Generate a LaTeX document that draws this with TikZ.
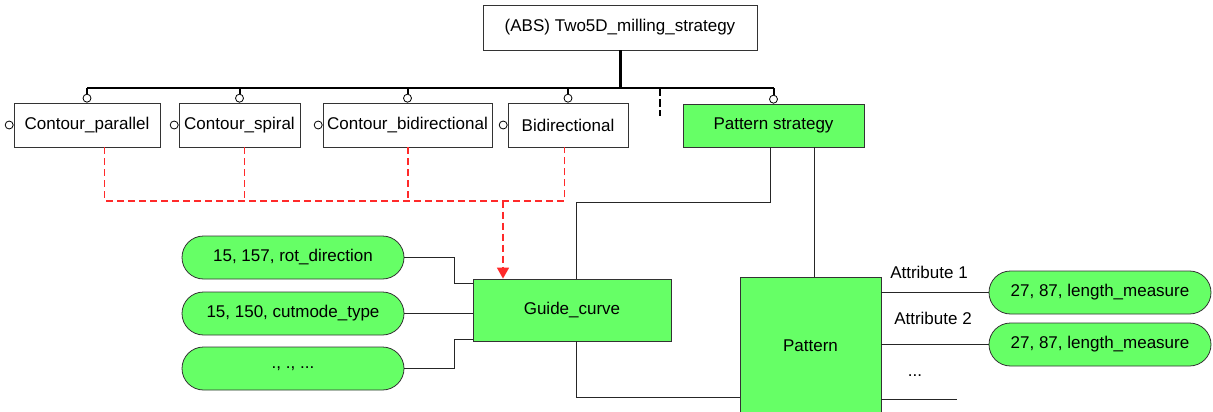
\documentclass[tikz,border=0pt]{standalone}
\usepackage{fontspec}
\setmainfont{Liberation Sans}
\usetikzlibrary{arrows.meta, positioning}
\definecolor{strategygreen}{HTML}{66FF66}
\definecolor{edgegray}{HTML}{333333}
\definecolor{linkred}{HTML}{FF2A2A}
\begin{document}
\begin{tikzpicture}[x=1pt, y=-1pt, font=\fontsize{17}{20}\selectfont, entity/.style={draw=edgegray, line width=0.8pt, fill=white, minimum height=44pt, inner sep=0pt}, active/.style={entity, fill=strategygreen}, attr/.style={draw=edgegray, line width=0.8pt, fill=strategygreen, rounded corners=21.5pt, minimum width=222pt, minimum height=43pt, inner sep=0pt}, ring/.style={circle, draw, line width=0.8pt, fill=white, minimum size=8pt, inner sep=0pt}, link/.style={line width=0.9pt, draw=black!85}, stub/.style={line width=2pt}, reddash/.style={draw=linkred, line width=1.6pt, dash pattern=on 7pt off 4pt}]
\useasboundingbox (0,0) rectangle (1213,412);
\node[entity, minimum width=274pt, minimum height=45pt] (top) at (620,27.5) {(ABS) Two5D\_milling\_strategy};
\node[entity, minimum width=146pt] (cpar) at (87,125) {Contour\_parallel};
\node[entity, minimum width=121pt] (cspi) at (239.5,125) {Contour\_spiral};
\node[entity, minimum width=169pt] (cbid) at (407.5,125) {Contour\_bidirectional};
\node[entity, minimum width=120pt] (bid) at (568,125) {Bidirectional};
\node[active, minimum width=181pt, minimum height=43pt] (pstrat) at (773.5,125.5) {Pattern strategy};
\node[ring, above=0pt of cpar] (cparo) {};\node[ring, above=0pt of cspi] (cspio) {};\node[ring, above=0pt of cbid] (cbido) {};\node[ring, above=0pt of bid] (bido) {};\node[ring, above=0pt of pstrat] (pstrato) {};
\node[ring, left=0pt of cpar] (cparl) {};\node[ring, left=0pt of cspi] (cspil) {};\node[ring, left=0pt of cbid] (cbidl) {};\node[ring, left=0pt of bid] (bidl) {};
\coordinate (barpt) at (620,88);
\coordinate (moretop) at (660,88);
\draw[line width=3pt] (top.south) -- (barpt);
\draw[stub] (cparo.north |- barpt) -- (pstrato.north |- barpt);
\foreach \o in {cparo, cspio, cbido, bido, pstrato} \draw[stub] (\o.north) -- (\o.north |- barpt);
\draw[stub, dash pattern=on 8pt off 3pt] (moretop) -- ++(0,28);
\node[active, minimum width=198pt, minimum height=62pt] (guide) at (572,310) {Guide\_curve};
\node[active, minimum width=141pt, minimum height=137pt] (pattern) at (810.5,345.5) {Pattern};
\node[attr] (rot) at (293,257.5) {15, 157, rot\_direction};
\node[attr] (cut) at (293,313.5) {15, 150, cutmode\_type};
\node[attr] (etc) at (293,368.5) {., ., ...};
\node[attr] (len1) at (1100,292.5) {27, 87, length\_measure};
\node[attr] (len2) at (1100,344.5) {27, 87, length\_measure};
\coordinate (redjoin) at (503,200.5);
\draw[reddash] ([xshift=17.5pt]cpar.south) -- ++(0,53.5) -| ([xshift=-3.5pt]bid.south);
\draw[reddash] ([xshift=5pt]cspi.south) -- ++(0,53.5);\draw[reddash] ([xshift=0.5pt]cbid.south) -- ++(0,53.5);
\draw[reddash, -{Triangle[length=11pt, width=12pt]}] (redjoin) -- (redjoin |- guide.north);
\draw[link] (rot.east) -- ++(50,0) |- ([yshift=-5pt]guide.north west);
\draw[link] (cut.east) -- (cut.east -| guide.west);
\draw[link] (etc.east) -- ++(50,0) |- ([yshift=2pt]guide.south west);
\draw[link] ([xshift=-3.5pt]pstrat.south) -- ++(0,55) -| ([xshift=4pt]guide.north);
\draw[link] ([xshift=4pt]guide.south) |- ([yshift=17pt]pattern.south west);
\draw[link] ([xshift=4pt]pattern.north) -- ++(0,-130);
\coordinate (moreattr) at (957,399);
\draw[link] (len1.west -| pattern.east) -- (len1.west);\draw[link] (len2.west -| pattern.east) -- (len2.west);\draw[link] (moreattr -| pattern.east) -- (moreattr);
\node (attr1) at (929,272) {Attribute 1};
\node (attr2) at (933,318) {Attribute 2};
\node (attrdots) at (915,376) {...};
\end{tikzpicture}
\end{document}
